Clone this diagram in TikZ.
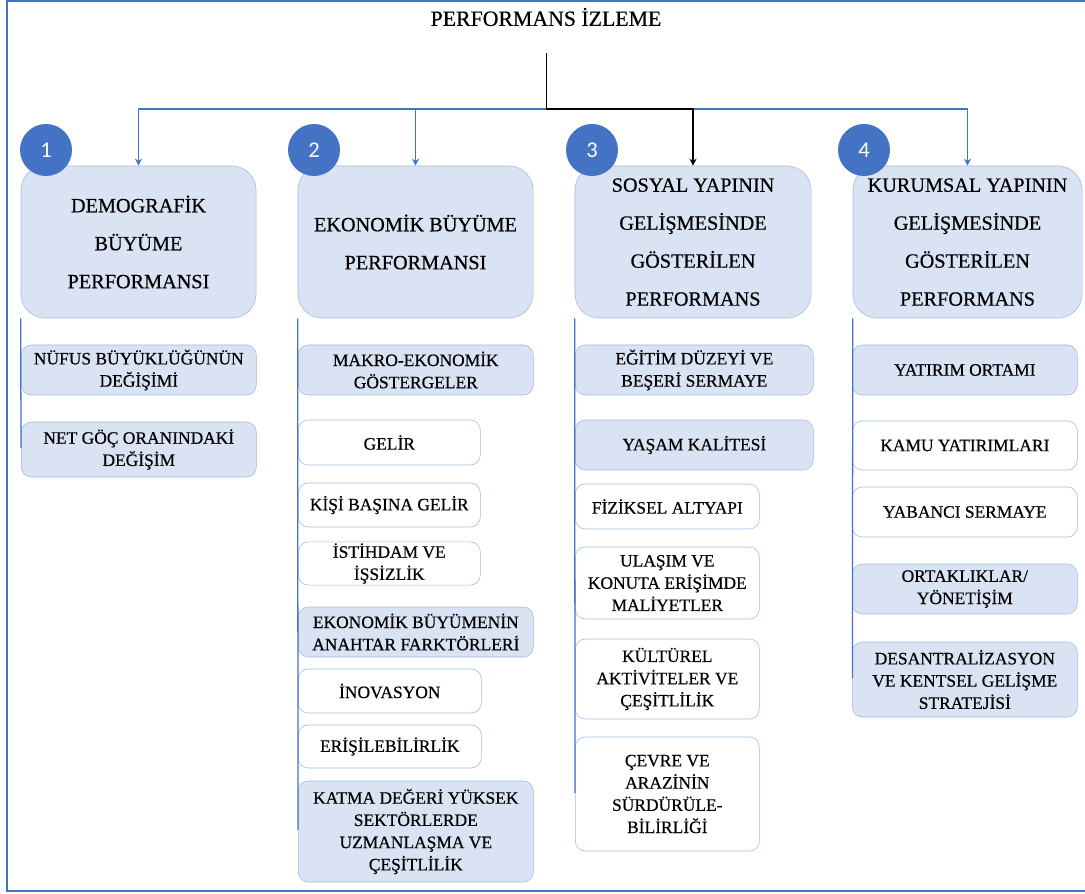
\documentclass[tikz,border=0pt]{standalone}
\usepackage{fontspec}
\setmainfont{Liberation Serif}
\newfontfamily\wordfont{Liberation Serif}[FakeBold=0.5]
\newfontfamily\numfont{Carlito}
\usetikzlibrary{arrows.meta,positioning}
\definecolor{ofblue}{RGB}{68,114,196}
\definecolor{boxfill}{RGB}{218,227,243}
\definecolor{boxline}{RGB}{160,186,228}

\begin{document}
\begin{tikzpicture}[x=0.025cm,y=-0.025cm,
  head/.style={draw=boxline,fill=boxfill,rounded corners=0.6cm,minimum height=3.8cm,align=center,inner sep=1pt,font=\wordfont\fontsize{14.4}{27}\selectfont},
  subf/.style={draw=boxline,fill=boxfill,rounded corners=0.25cm,anchor=west,align=center,inner sep=1pt,font=\wordfont\fontsize{12.4}{15.8}\selectfont},
  subw/.style={subf,fill=white},
  num/.style={circle,fill=ofblue,text=white,minimum size=1.3cm,inner sep=0pt,font=\numfont\fontsize{16}{16}\selectfont},
  link/.style={ofblue,line width=1.4pt},
  colline/.style={ofblue,line width=0.9pt},
  >={Stealth[length=5pt,width=5pt]}]
\useasboundingbox (0,0) rectangle (1085,894);
\draw[ofblue,line width=1.6pt] (1085,1) -- (7,1) -- (7,891) -- (1085,891);

\node[font=\wordfont\fontsize{15.5}{15.5}\selectfont] (title) at (546,17) {PERFORMANS İZLEME};
\coordinate (top) at (546.5,53);
\coordinate (split) at (546.5,109);

% main boxes
\node[head,minimum width=5.875cm] (demo) at (138.5,242) {DEMOGRAFİK\\BÜYÜME\\PERFORMANSI};
\node[head,minimum width=5.875cm] (ekon) at (415.5,242) {EKONOMİK BÜYÜME\\PERFORMANSI};
\node[head,minimum width=5.9cm,text depth=0pt] (sosyal) at (693,242) {SOSYAL YAPININ\\GELİŞMESİNDE\\GÖSTERİLEN\\PERFORMANS};
\node[head,minimum width=5.725cm,text depth=0pt] (kurum) at (967.5,242) {KURUMSAL YAPININ\\GELİŞMESİNDE\\GÖSTERİLEN\\PERFORMANS};

\draw[link,->] (split) -| (demo.north);
\draw[link,->] (split) -| (ekon.north);
\draw[link,->] (split -| sosyal.north) -| (kurum.north);
\draw[line width=1.4pt,->] (top) -- (split) -| (sosyal.north);

% column 1
\node[subf,minimum width=5.875cm,minimum height=1.25cm] (nufus) at (21,370) {NÜFUS BÜYÜKLÜĞÜNÜN\\DEĞİŞİMİ};
\node[subf,minimum width=5.875cm,minimum height=1.375cm] (goc) at (21,449.5) {NET GÖÇ ORANINDAKİ\\DEĞİŞİM};

% column 2
\node[subf,minimum width=5.875cm,minimum height=1.25cm] (makro) at (298,370) {MAKRO-EKONOMİK\\GÖSTERGELER};
\node[subw,minimum width=4.55cm,minimum height=1.125cm] (gelir) at (298,442.5) {GELİR};
\node[subw,minimum width=4.55cm,minimum height=1.1cm] (kisi) at (298,505) {KİŞİ BAŞINA GELİR};
\node[subw,minimum width=4.55cm,minimum height=1.075cm] (istihdam) at (298,563.5) {İSTİHDAM VE\\İŞSİZLİK};
\node[subf,minimum width=5.875cm,minimum height=1.25cm] (anahtar) at (298,632) {EKONOMİK BÜYÜMENİN\\ANAHTAR FARKTÖRLERİ};
\node[subw,minimum width=4.575cm,minimum height=1.1cm] (inova) at (298,691) {İNOVASYON};
\node[subw,minimum width=4.575cm,minimum height=1.075cm] (erisim) at (298,746.5) {ERİŞİLEBİLİRLİK};
\node[subf,minimum width=5.875cm,minimum height=2.525cm] (katma) at (298,831.5) {KATMA DEĞERİ YÜKSEK\\SEKTÖRLERDE\\UZMANLAŞMA VE\\ÇEŞİTLİLİK};

% column 3
\node[subf,minimum width=5.95cm,minimum height=1.25cm] (egitim) at (575,370) {EĞİTİM DÜZEYİ VE\\BEŞERİ SERMAYE};
\node[subf,minimum width=5.95cm,minimum height=1.25cm] (yasam) at (575,445) {YAŞAM KALİTESİ};
\node[subw,minimum width=4.6cm,minimum height=1.125cm] (fizik) at (575,506.5) {FİZİKSEL ALTYAPI};
\node[subw,minimum width=4.6cm,minimum height=1.8cm] (ulasim) at (575,583) {ULAŞIM VE\\KONUTA ERİŞİMDE\\MALİYETLER};
\node[subw,minimum width=4.6cm,minimum height=2cm] (kultur) at (575,679) {KÜLTÜREL\\AKTİVİTELER VE\\ÇEŞİTLİLİK};
\node[subw,minimum width=4.6cm,minimum height=2.85cm] (cevre) at (575,794) {ÇEVRE VE\\ARAZİNİN\\SÜRDÜRÜLE-\\BİLİRLİĞİ};

% column 4
\node[subf,minimum width=5.625cm,minimum height=1.25cm] (yatirim) at (852,370) {YATIRIM ORTAMI};
\node[subw,minimum width=5.625cm,minimum height=1.225cm] (kamu) at (852,445.5) {KAMU YATIRIMLARI};
\node[subw,minimum width=5.625cm,minimum height=1.25cm] (yabanci) at (852,512) {YABANCI SERMAYE};
\node[subf,minimum width=5.625cm,minimum height=1.25cm] (ortak) at (852,589) {ORTAKLIKLAR/\\YÖNETİŞİM};
\node[subf,minimum width=5.625cm,minimum height=1.875cm] (desant) at (852,679.5) {DESANTRALİZASYON\\VE KENTSEL GELİŞME\\STRATEJİSİ};

% column lines
\coordinate (end1) at (21,448);
\coordinate (end2) at (298,830);
\coordinate (end3) at (575,793);
\coordinate (end4) at (852.5,678);
\draw[colline] (demo.south west) -- (end1);
\draw[colline] (ekon.south west) -- (end2);
\draw[colline] (sosyal.south west) -- (end3);
\draw[colline] (kurum.south west) -- (end4);

% numbers
\node[num] (n1) at (46,150) {1};
\node[num] (n2) at (314,150) {2};
\node[num] (n3) at (592,150) {3};
\node[num] (n4) at (864,150) {4};
\end{tikzpicture}
\end{document}
